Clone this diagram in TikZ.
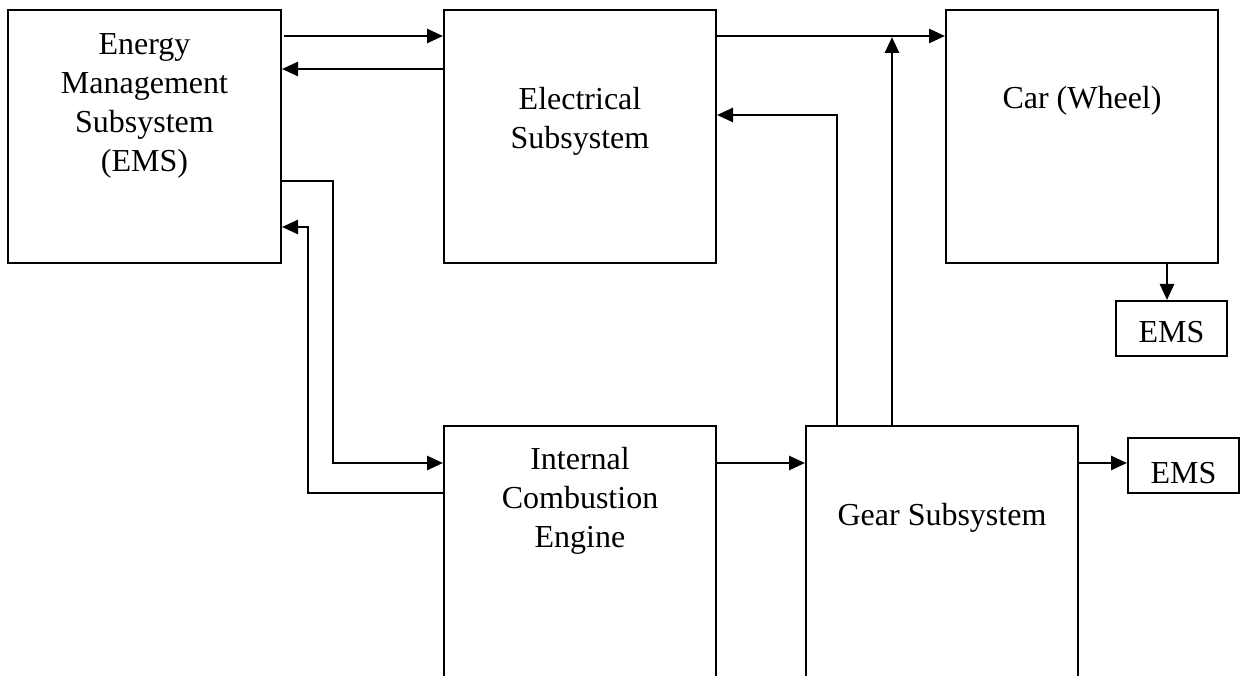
\documentclass[tikz,border=0pt]{standalone}
\usepackage{fontspec}
\setmainfont{Liberation Serif}
\usetikzlibrary{arrows.meta}
\begin{document}
\begin{tikzpicture}[x=1pt,y=-1pt,
  box/.style={draw,line width=2pt,inner sep=0pt,rectangle},
  lbl/.style={inner sep=0pt,align=center,font=\fontsize{32}{39}\selectfont},
  arr/.style={line width=2.6pt,-{Triangle[length=16pt,width=14pt]}}]
\clip (0,0) rectangle (1248,676);
\fill[white] (0,0) rectangle (1248,676);
% boxes
\node[box,minimum width=273pt,minimum height=253pt] (ems) at (144.5,136.5) {};
\node[box,minimum width=272pt,minimum height=253pt] (elec) at (580,136.5) {};
\node[box,minimum width=272pt,minimum height=253pt] (car) at (1082,136.5) {};
\node[box,minimum width=272pt,minimum height=264pt] (ice) at (580,558) {};
\node[box,minimum width=272pt,minimum height=264pt] (gear) at (942,558) {};
\node[box,minimum width=111pt,minimum height=55pt] (emsa) at (1171.5,328.5) {};
\node[box,minimum width=111pt,minimum height=55pt] (emsb) at (1183.5,465.5) {};
% texts
\node[lbl,anchor=north] (tems) at (144.5,33) {Energy\\Management\\Subsystem\\(EMS)};
\node[lbl,anchor=north] (telec) at (580,87) {Electrical\\Subsystem};
\node[lbl,anchor=base] (tcar) at (1082,109) {Car (Wheel)};
\node[lbl,anchor=north] (tice) at (580,447) {Internal\\Combustion\\Engine};
\node[lbl,anchor=base] (tgear) at (942,525) {Gear Subsystem};
\node[lbl,anchor=base] (temsa) at (1171.5,343) {EMS};
\node[lbl,anchor=base] (temsb) at (1183.5,483) {EMS};
% helper coordinates
\coordinate (ya) at (0,36);
\coordinate (yb) at (0,69);
\coordinate (c1) at (333,181);
\coordinate (c2) at (0,463);
\coordinate (d1) at (0,493);
\coordinate (d2) at (308,227);
\coordinate (p1) at (892,36);
\coordinate (p2) at (837,115);
\coordinate (hx) at (1167,0);
% connectors
\draw[arr] ([xshift=2pt]ems.east |- ya) -- (elec.west |- ya);
\draw[arr] (elec.west |- yb) -- (ems.east |- yb);
\draw[arr] (elec.east |- ya) -- (car.west |- ya);
\draw[arr] (ems.east |- c1) -- (c1) -- (c1 |- c2) -- (ice.west |- c2);
\draw[arr] (ice.west |- d1) -- (d2 |- d1) -- (d2) -- (ems.east |- d2);
\draw[arr,shorten >=1pt] (gear.north -| p1) -- (p1);
\draw[arr] (gear.north -| p2) -- (p2) -- (elec.east |- p2);
\draw[arr] (car.south -| hx) -- (emsa.north -| hx);
\draw[arr] (ice.east |- c2) -- (gear.west |- c2);
\draw[arr] (gear.east |- c2) -- (emsb.west |- c2);
\end{tikzpicture}
\end{document}
